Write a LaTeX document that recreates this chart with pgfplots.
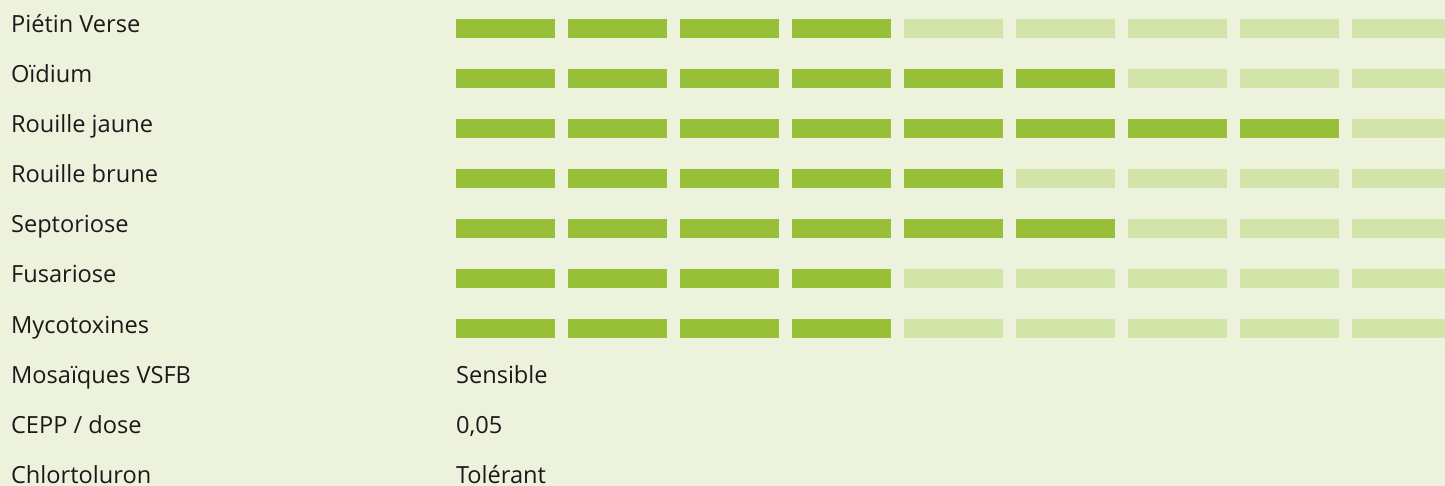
\documentclass[border=0pt]{standalone}
\usepackage{pgfplots}
\pgfplotsset{compat=1.18}
\usepackage{pgfplotstable}
\usepackage{fontspec}
\setmainfont{Open Sans}
\definecolor{bgc}{HTML}{EDF2DC}
\definecolor{dark}{HTML}{97BF38}
\definecolor{light}{HTML}{D3E4A8}
\definecolor{txt}{HTML}{1A1A1A}
\pgfdeclareplotmark{blk}{\pgfpathrectangle{\pgfqpoint{-24.75pt}{-4.75pt}}{\pgfqpoint{49.5pt}{9.5pt}}\pgfusepathqfill}
% k = block index, r = row index
\pgfplotstableread{
k r
0 0
1 0
2 0
3 0
0 1
1 1
2 1
3 1
4 1
5 1
0 2
1 2
2 2
3 2
4 2
5 2
6 2
7 2
0 3
1 3
2 3
3 3
4 3
0 4
1 4
2 4
3 4
4 4
5 4
0 5
1 5
2 5
3 5
0 6
1 6
2 6
3 6
}\darktab
\pgfplotstableread{
k r
4 0
5 0
6 0
7 0
8 0
6 1
7 1
8 1
8 2
5 3
6 3
7 3
8 3
6 4
7 4
8 4
4 5
5 5
6 5
7 5
8 5
4 6
5 6
6 6
7 6
8 6
}\lighttab
\begin{document}
\begin{tikzpicture}
\begin{axis}[
  scale only axis, width=722.5pt, height=243pt,
  xmin=-4.51339, xmax=8.38839,
  ymin=-0.57, ymax=9.15, y dir=reverse,
  hide axis,
  axis background/.style={fill=bgc},
  clip=true,
]
\addplot[only marks, mark=blk, color=light] table[x=k,y=r] {\lighttab};
\addplot[only marks, mark=blk, color=dark] table[x=k,y=r] {\darktab};
\coordinate (SW) at (rel axis cs:0,1);
\coordinate (NE) at (rel axis cs:1,0);
\foreach \lab [count=\i from 0] in {Piétin Verse,Oïdium,Rouille jaune,Rouille brune,Septoriose,Fusariose,Mycotoxines,Mosaïques VSFB,CEPP / dose,Chlortoluron}{
  \edef\tmp{\noexpand\node[anchor=base west, inner sep=0pt, text=txt, font=\noexpand\fontsize{11.8}{14}\noexpand\selectfont] at (axis cs:-4.418,\i+0.09) {\lab};}
  \tmp
}
\node[anchor=base west, inner sep=0pt, text=txt, font=\fontsize{11.8}{14}\selectfont] at (axis cs:-0.445,7.09) {Sensible};
\node[anchor=base west, inner sep=0pt, text=txt, font=\fontsize{11.8}{14}\selectfont] at (axis cs:-0.445,8.09) {0,05};
\node[anchor=base west, inner sep=0pt, text=txt, font=\fontsize{11.8}{14}\selectfont] at (axis cs:-0.445,9.09) {Tolérant};
\end{axis}
\pgfresetboundingbox
\path[use as bounding box] (SW) rectangle (NE);
\end{tikzpicture}
\end{document}
